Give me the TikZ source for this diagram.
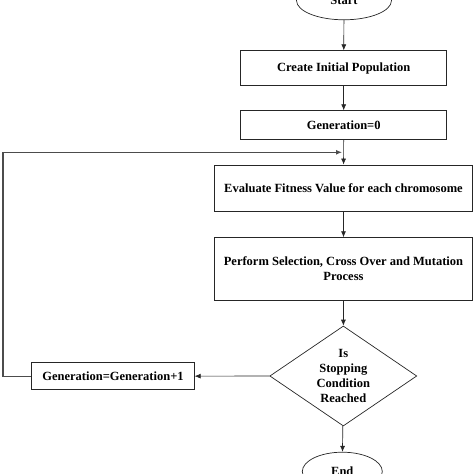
\documentclass[tikz,border=0pt]{standalone}
\usepackage{fontspec}
\setmainfont{Liberation Serif}
\usetikzlibrary{arrows}
\usetikzlibrary{arrows.meta}
\usetikzlibrary{shapes.geometric}
\tikzset{>=latex}
\tikzset{procbox/.style = {rectangle, draw=black!85, line width=0.7pt, align=center, inner sep=0pt, font=\fontsize{12.5}{14.5}\selectfont\bfseries}}
\tikzset{termbox/.style = {ellipse, draw=black!85, line width=0.7pt, inner sep=0pt, minimum height=38.6pt, font=\fontsize{12.5}{14}\selectfont\bfseries}}
\tikzset{flow/.style = {-{Latex[length=6pt, width=5pt]}, draw=black!85, line width=0.7pt}}

\begin{document}
\begin{tikzpicture}[x=1pt, y=-1pt]
\useasboundingbox (0,0) rectangle (474,474);
\node [termbox, minimum width=95pt] (start) at (344, 0.5) {Start};
\node [procbox, minimum width=206pt, minimum height=35pt] (init) at (343.7, 68.2) {Create Initial Population};
\node [procbox, minimum width=206pt, minimum height=28.6pt] (gen0) at (343.7, 125) {Generation=0};
\node [procbox, minimum width=258.4pt, minimum height=46.7pt] (eval) at (343.5, 188.3) {Evaluate Fitness Value for each chromosome};
\node [procbox, minimum width=258.4pt, minimum height=62.3pt] (oper) at (343.5, 268.8) {Perform Selection, Cross Over and Mutation\\Process};
\node [diamond, aspect=1.47, draw=black!85, line width=0.7pt, align=center, inner sep=0pt, minimum width=147pt, minimum height=100pt, font=\fontsize{12.5}{15}\selectfont\bfseries] (stop) at (343.3, 376) {Is\\Stopping\\Condition\\Reached};
\node [procbox, minimum width=162.6pt, minimum height=27pt] (genup) at (113, 376.2) {Generation=Generation+1};
\node [termbox, minimum width=80pt] (finish) at (342.3, 471.5) {End};
\coordinate (loopin) at (342, 152.3);
\draw [flow] (start) to (init);
\draw [flow] (init) to (gen0);
\draw [flow] (gen0) to (eval);
\draw [flow] (eval) to (oper);
\draw [flow] (oper) to (stop);
\draw [flow] (stop) to (genup);
\draw [flow] (stop) to (finish);
\draw [flow, draw=black!70, line width=1.1pt] (genup.west) -| (3, 152.3) -- (loopin);
\end{tikzpicture}
\end{document}
